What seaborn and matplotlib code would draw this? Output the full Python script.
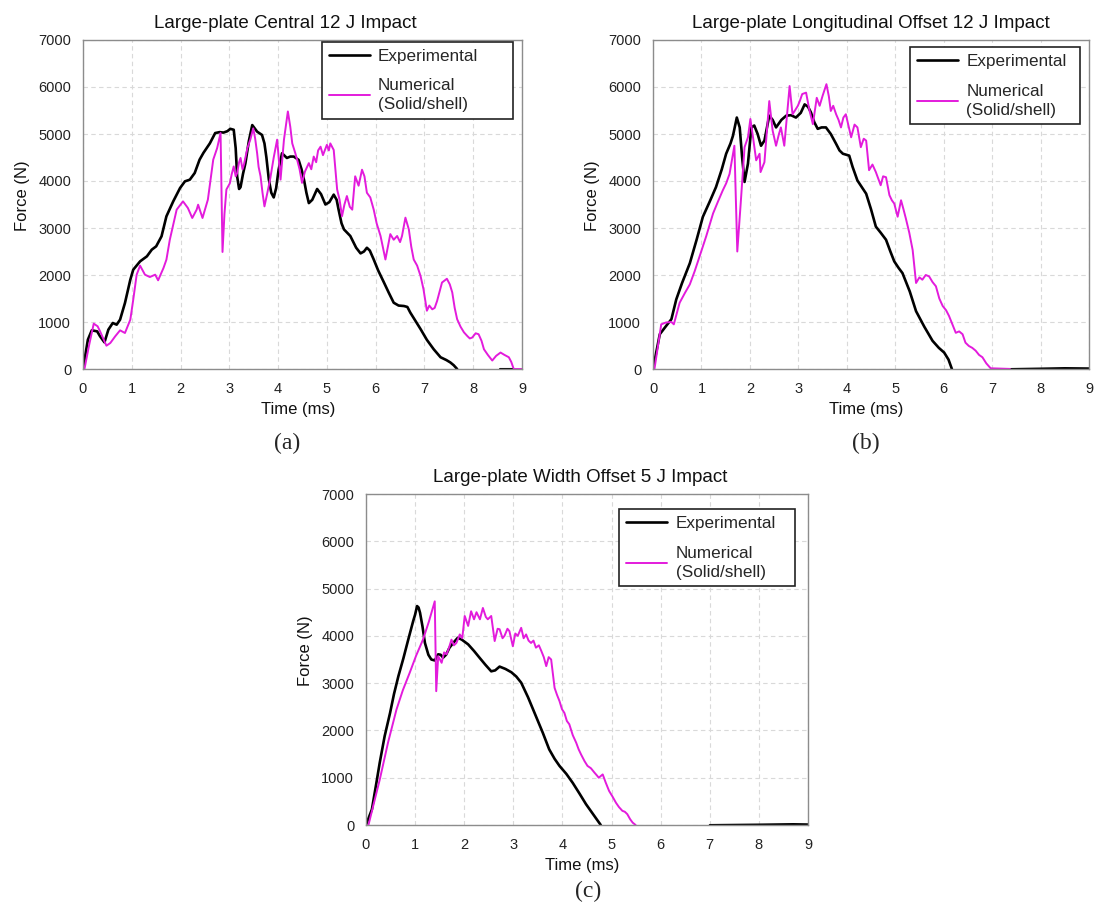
import matplotlib
matplotlib.use("Agg")
import matplotlib.pyplot as plt
import seaborn as sns
import pandas as pd

# ---------------- data (time in ms, force in N) ----------------
# (a) Central 12 J
a_exp_t = [0, 0.1, 0.18, 0.29, 0.35, 0.44, 0.52, 0.61, 0.69, 0.76, 0.86, 0.97, 1.03, 1.17, 1.31, 1.41,
           1.5, 1.61, 1.71, 1.85, 1.99, 2.09, 2.19, 2.29, 2.39, 2.47, 2.6, 2.71, 2.8, 2.88, 2.96, 3.02,
           3.09, 3.13, 3.16, 3.2, 3.23, 3.28, 3.33, 3.4, 3.47, 3.52, 3.57, 3.67, 3.72, 3.76, 3.81, 3.86,
           3.91, 3.96, 4.01, 4.08, 4.18, 4.25, 4.32, 4.42, 4.48, 4.53, 4.58, 4.63, 4.7, 4.8, 4.88, 4.97,
           5.05, 5.14, 5.2, 5.24, 5.3, 5.35, 5.48, 5.6, 5.69, 5.76, 5.82, 5.88, 5.96, 6.05, 6.17, 6.27,
           6.37, 6.47, 6.58, 6.65, 6.71, 6.8, 6.92, 7.05, 7.19, 7.33, 7.45, 7.53, 7.6, 7.67]
a_exp_f = [0, 624, 823, 801, 695, 567, 837, 979, 943, 1050, 1404, 1900, 2113, 2290, 2397, 2539,
           2610, 2823, 3248, 3567, 3851, 3993, 4028, 4170, 4454, 4600, 4800, 5020, 5040, 5030, 5060, 5110,
           5090, 4700, 4100, 3830, 3870, 4150, 4380, 4850, 5190, 5120, 5050, 4980, 4800, 4500, 4030, 3750,
           3650, 3850, 4240, 4590, 4490, 4520, 4520, 4450, 4250, 4030, 3750, 3530, 3600, 3830, 3720, 3500,
           3550, 3710, 3600, 3390, 3100, 2970, 2830, 2580, 2460, 2500, 2580, 2520, 2330, 2100, 1840, 1620,
           1410, 1350, 1340, 1320, 1200, 1050, 850, 620, 420, 250, 190, 140, 80, 0]
a_exp_tail_t = [8.55, 8.8]
a_exp_tail_f = [0, 0]

a_num_t = [0.03, 0.12, 0.22, 0.3, 0.35, 0.48, 0.56, 0.66, 0.76, 0.86, 0.97, 1.03, 1.1, 1.17, 1.27,
           1.37, 1.48, 1.54, 1.65, 1.71, 1.78, 1.92, 2.05, 2.15, 2.24, 2.33, 2.36, 2.45, 2.56, 2.67,
           2.75, 2.82, 2.86, 2.9, 2.94, 3.01, 3.05, 3.09, 3.13, 3.16, 3.2, 3.23, 3.27, 3.3, 3.37, 3.43,
           3.49, 3.53, 3.57, 3.6, 3.64, 3.68, 3.72, 3.78, 3.84, 3.91, 3.98, 4.02, 4.05, 4.12, 4.2, 4.25,
           4.29, 4.35, 4.39, 4.44, 4.49, 4.55, 4.63, 4.68, 4.73, 4.78, 4.82, 4.87, 4.92, 5.0, 5.04, 5.07,
           5.14, 5.21, 5.26, 5.31, 5.36, 5.41, 5.47, 5.52, 5.58, 5.65, 5.72, 5.77, 5.82, 5.89, 5.96, 6.02,
           6.1, 6.2, 6.25, 6.3, 6.37, 6.44, 6.5, 6.54, 6.61, 6.68, 6.73, 6.78, 6.85, 6.92, 6.98, 7.05,
           7.1, 7.16, 7.21, 7.26, 7.36, 7.46, 7.52, 7.57, 7.62, 7.67, 7.74, 7.81, 7.88, 7.93, 7.98, 8.05,
           8.11, 8.17, 8.22, 8.3, 8.39, 8.47, 8.56, 8.64, 8.73, 8.78, 8.83, 9.0]
a_num_f = [0, 482, 965, 908, 801, 496, 553, 695, 823, 766, 1050, 1475, 2007, 2199, 2007,
           1957, 2007, 1887, 2149, 2326, 2752, 3390, 3567, 3426, 3213, 3390, 3496, 3213, 3603, 4454,
           4700, 5020, 2490, 3300, 3820, 3950, 4150, 4310, 4100, 4170, 4400, 4490, 4250, 4350, 4700, 4880,
           5120, 4900, 4590, 4300, 4100, 3750, 3460, 3750, 4060, 4500, 4880, 4400, 4030, 4880, 5480, 5150,
           4800, 4600, 4450, 4250, 3960, 4200, 4380, 4250, 4520, 4400, 4650, 4730, 4550, 4770, 4650, 4800,
           4660, 3820, 3600, 3250, 3500, 3680, 3450, 3390, 4100, 3900, 4240, 4100, 3750, 3650, 3390, 3100,
           2830, 2330, 2600, 2870, 2750, 2830, 2700, 2830, 3220, 2970, 2600, 2330, 2200, 1980, 1700, 1240,
           1350, 1270, 1300, 1450, 1840, 1920, 1800, 1630, 1300, 1060, 900, 780, 700, 650, 670, 760,
           740, 600, 420, 300, 180, 280, 350, 300, 250, 150, 0, 0]

# (b) Longitudinal offset 12 J
b_exp_t = [0, 0.14, 0.27, 0.38, 0.48, 0.6, 0.76, 0.9, 1.03, 1.17, 1.3, 1.42, 1.51, 1.6, 1.65, 1.73,
           1.79, 1.84, 1.89, 1.96, 2.03, 2.09, 2.16, 2.23, 2.3, 2.4, 2.47, 2.54, 2.65, 2.75, 2.85, 2.95,
           3.05, 3.13, 3.2, 3.26, 3.33, 3.4, 3.48, 3.57, 3.67, 3.78, 3.85, 3.92, 4.05, 4.12, 4.22, 4.4,
           4.5, 4.6, 4.7, 4.81, 4.9, 4.98, 5.07, 5.15, 5.3, 5.43, 5.6, 5.77, 5.9, 6.01, 6.1, 6.17]
b_exp_f = [0, 740, 915, 1060, 1480, 1830, 2250, 2750, 3240, 3560, 3870, 4250, 4580, 4800, 4960, 5350,
           5140, 4500, 3980, 4370, 5140, 5180, 5000, 4750, 4860, 5390, 5300, 5140, 5300, 5390, 5400, 5350,
           5450, 5630, 5580, 5460, 5250, 5110, 5140, 5140, 5000, 4790, 4650, 4580, 4540, 4300, 4010, 3730,
           3400, 3030, 2900, 2750, 2500, 2290, 2150, 2040, 1650, 1230, 900, 600, 450, 350, 200, 0]
b_exp_tail_t = [7.4, 8.0, 8.5, 9.0]
b_exp_tail_f = [0, 10, 20, 15]

b_num_t = [0.03, 0.17, 0.27, 0.38, 0.43, 0.55, 0.66, 0.76, 0.86, 0.96, 1.1, 1.24, 1.34, 1.44, 1.51,
           1.58, 1.68, 1.74, 1.81, 1.89, 1.96, 2.01, 2.07, 2.13, 2.2, 2.22, 2.3, 2.4, 2.47, 2.54, 2.6,
           2.64, 2.71, 2.82, 2.88, 2.93, 2.99, 3.03, 3.08, 3.16, 3.23, 3.3, 3.38, 3.44, 3.5, 3.58, 3.63,
           3.67, 3.72, 3.78, 3.83, 3.88, 3.93, 3.98, 4.03, 4.09, 4.16, 4.22, 4.29, 4.35, 4.4, 4.46, 4.53,
           4.6, 4.65, 4.7, 4.75, 4.81, 4.88, 4.93, 4.98, 5.05, 5.12, 5.17, 5.22, 5.29, 5.36, 5.43, 5.5,
           5.56, 5.63, 5.7, 5.77, 5.84, 5.91, 5.98, 6.05, 6.11, 6.18, 6.25, 6.32, 6.39, 6.45, 6.52, 6.59,
           6.66, 6.73, 6.8, 6.88, 6.97, 7.42]
b_num_f = [0, 950, 990, 1000, 950, 1410, 1620, 1800, 2080, 2390, 2830, 3310, 3560, 3800, 3950,
           4150, 4750, 2500, 3520, 4720, 4930, 5320, 4890, 4440, 4580, 4190, 4400, 5700, 5070, 4750, 5000,
           5140, 4750, 6020, 5420, 5500, 5600, 5700, 5850, 5880, 5500, 5210, 5770, 5600, 5810, 6060, 5800,
           5490, 5600, 5420, 5300, 5140, 5350, 5420, 5200, 4930, 5200, 5140, 4720, 4900, 4860, 4230, 4350,
           4190, 4050, 3910, 4100, 4080, 3700, 3590, 3520, 3240, 3590, 3400, 3200, 2900, 2530, 1830, 1950,
           1900, 2000, 1970, 1850, 1760, 1500, 1340, 1250, 1130, 950, 770, 800, 740, 560, 490, 450,
           390, 300, 250, 120, 15, 0]

# (c) Width offset 5 J
c_exp_t = [0, 0.12, 0.2, 0.28, 0.38, 0.49, 0.57, 0.66, 0.76, 0.86, 0.96, 1.0, 1.04, 1.07, 1.1, 1.15,
           1.2, 1.27, 1.33, 1.4, 1.47, 1.52, 1.57, 1.63, 1.7, 1.8, 1.87, 1.95, 2.08, 2.2, 2.31, 2.43,
           2.55, 2.63, 2.72, 2.84, 2.96, 3.06, 3.16, 3.3, 3.46, 3.6, 3.73, 3.84, 3.94, 4.08, 4.21, 4.35,
           4.48, 4.63, 4.78]
c_exp_f = [0, 330, 820, 1320, 1880, 2370, 2770, 3150, 3520, 3920, 4310, 4450, 4630, 4600, 4490, 4200,
           3850, 3600, 3500, 3480, 3610, 3600, 3540, 3600, 3750, 3880, 3960, 3920, 3820, 3680, 3540, 3390,
           3250, 3270, 3350, 3300, 3230, 3140, 3010, 2700, 2300, 1950, 1600, 1400, 1250, 1080, 890, 660,
           440, 220, 0]
c_exp_tail_t = [7.0, 8.0, 8.7, 9.0]
c_exp_tail_f = [0, 10, 20, 15]

c_num_t = [0.05, 0.28, 0.45, 0.62, 0.75, 0.89, 1.02, 1.16, 1.28, 1.4, 1.43, 1.47, 1.54, 1.59, 1.64,
           1.69, 1.74, 1.79, 1.84, 1.91, 1.96, 2.01, 2.05, 2.08, 2.14, 2.2, 2.25, 2.32, 2.38, 2.44, 2.48,
           2.55, 2.62, 2.68, 2.72, 2.78, 2.82, 2.88, 2.92, 2.99, 3.04, 3.09, 3.16, 3.21, 3.26, 3.31, 3.36,
           3.41, 3.46, 3.52, 3.57, 3.62, 3.67, 3.72, 3.77, 3.84, 3.89, 3.94, 3.99, 4.04, 4.09, 4.14, 4.21,
           4.28, 4.33, 4.38, 4.45, 4.51, 4.58, 4.65, 4.7, 4.74, 4.82, 4.88, 4.95, 5.02, 5.09, 5.15, 5.22,
           5.27, 5.32, 5.38, 5.43, 5.49]
c_num_f = [0, 960, 1750, 2440, 2850, 3220, 3580, 3920, 4300, 4730, 2830, 3570, 3430, 3650, 3610,
           3750, 3920, 3800, 3850, 4030, 3950, 4420, 4300, 4210, 4520, 4350, 4500, 4350, 4590, 4400, 4350,
           4420, 3890, 4150, 4140, 3950, 4000, 4150, 4100, 3780, 4050, 4000, 4170, 3950, 4030, 3900, 3850,
           3900, 3750, 3800, 3680, 3550, 3360, 3550, 3500, 2900, 2750, 2620, 2450, 2370, 2200, 2130, 1900,
           1740, 1600, 1490, 1350, 1250, 1200, 1110, 1050, 1000, 1070, 900, 720, 600, 470, 380, 300,
           280, 230, 120, 50, 0]

titles = ["Large-plate Central 12 J Impact",
          "Large-plate Longitudinal Offset 12 J Impact",
          "Large-plate Width Offset 5 J Impact"]
panel_labels = ["(a)", "(b)", "(c)"]
series_names = ["Experimental", "Numerical\n(Solid/shell)"]
x_ticks = list(range(0, 10))
y_ticks = list(range(0, 7001, 1000))

EXP_COLOR = "#000000"
NUM_COLOR = "#E31BDC"

# ---------------- plotting ----------------
sns.set_theme(style="white")
plt.rcParams["font.family"] = ["Liberation Sans", "DejaVu Sans"]

fig = plt.figure(figsize=(10.97, 9.13), dpi=100)
W, H = 1097, 913
def ax_rect(l, t, r, b):
    return [l / W, 1 - b / H, (r - l) / W, (b - t) / H]

axes = [fig.add_axes(ax_rect(83, 40, 522, 369)),
        fig.add_axes(ax_rect(653, 40, 1089, 369)),
        fig.add_axes(ax_rect(366, 494, 808, 825))]

data = [
    (a_exp_t, a_exp_f, a_exp_tail_t, a_exp_tail_f, a_num_t, a_num_f),
    (b_exp_t, b_exp_f, b_exp_tail_t, b_exp_tail_f, b_num_t, b_num_f),
    (c_exp_t, c_exp_f, c_exp_tail_t, c_exp_tail_f, c_num_t, c_num_f),
]

label_pos = [(287, 443), (866, 443), (588, 891)]
title_x = [0.46, 0.5, 0.485]
# legend boxes in axes fraction: (x0, top, width)
leg_box = [(0.5437, 0.994, 0.4358), (0.5894, 0.978, 0.39), (0.573, 0.954, 0.3976)]

for i, ax in enumerate(axes):
    et, ef, ett, etf, nt, nf = data[i]
    df_e = pd.DataFrame({"t": et, "f": ef})
    df_et = pd.DataFrame({"t": ett, "f": etf})
    df_n = pd.DataFrame({"t": nt, "f": nf})
    sns.lineplot(data=df_e, x="t", y="f", ax=ax, color=EXP_COLOR, lw=1.9,
                 label=series_names[0], sort=False, estimator=None)
    sns.lineplot(data=df_n, x="t", y="f", ax=ax, color=NUM_COLOR, lw=1.4,
                 label=series_names[1], sort=False, estimator=None)
    sns.lineplot(data=df_et, x="t", y="f", ax=ax, color=EXP_COLOR, lw=1.5,
                 sort=False, estimator=None, legend=False)
    ax.set_xlim(0, 9)
    ax.set_ylim(0, 7000)
    ax.set_xticks(x_ticks)
    ax.set_yticks(y_ticks)
    ax.tick_params(axis="both", labelsize=10.5, length=0, colors="#222222")
    ax.tick_params(axis="x", pad=9)
    ax.tick_params(axis="y", pad=8.5)
    ax.grid(True, color="#d9d9d9", linestyle=(0, (4, 3)), linewidth=0.8)
    ax.set_axisbelow(True)
    for s in ax.spines.values():
        s.set_color("#8c8c8c")
        s.set_linewidth(1.0)
    ax.set_xlabel("Time (ms)", fontsize=12, labelpad=5, color="#111111", x=0.49)
    ax.set_ylabel("Force (N)", fontsize=12, labelpad=6, color="#111111", y=0.526)
    ax.set_title(titles[i], fontsize=13.5, pad=9, color="#111111", x=title_x[i])
    x0, top, w = leg_box[i]
    leg = ax.legend(loc="upper left", bbox_to_anchor=(x0, top - 0.3, w, 0.3), mode="expand",
                    borderaxespad=0, fontsize=12.3,
                    frameon=True, fancybox=False, edgecolor="#222222", framealpha=1,
                    handlelength=2.4, borderpad=0.4, labelspacing=0.85, handletextpad=0.5)
    for t in leg.get_texts():
        t.set_linespacing(1.33)
    leg.get_frame().set_linewidth(1.2)
    lx, ly = label_pos[i]
    fig.text(lx / W, 1 - ly / H, panel_labels[i], ha="center", va="center",
             fontsize=17, family=["Liberation Serif", "DejaVu Serif"])

fig.savefig("out.png", dpi=100, facecolor="white")
